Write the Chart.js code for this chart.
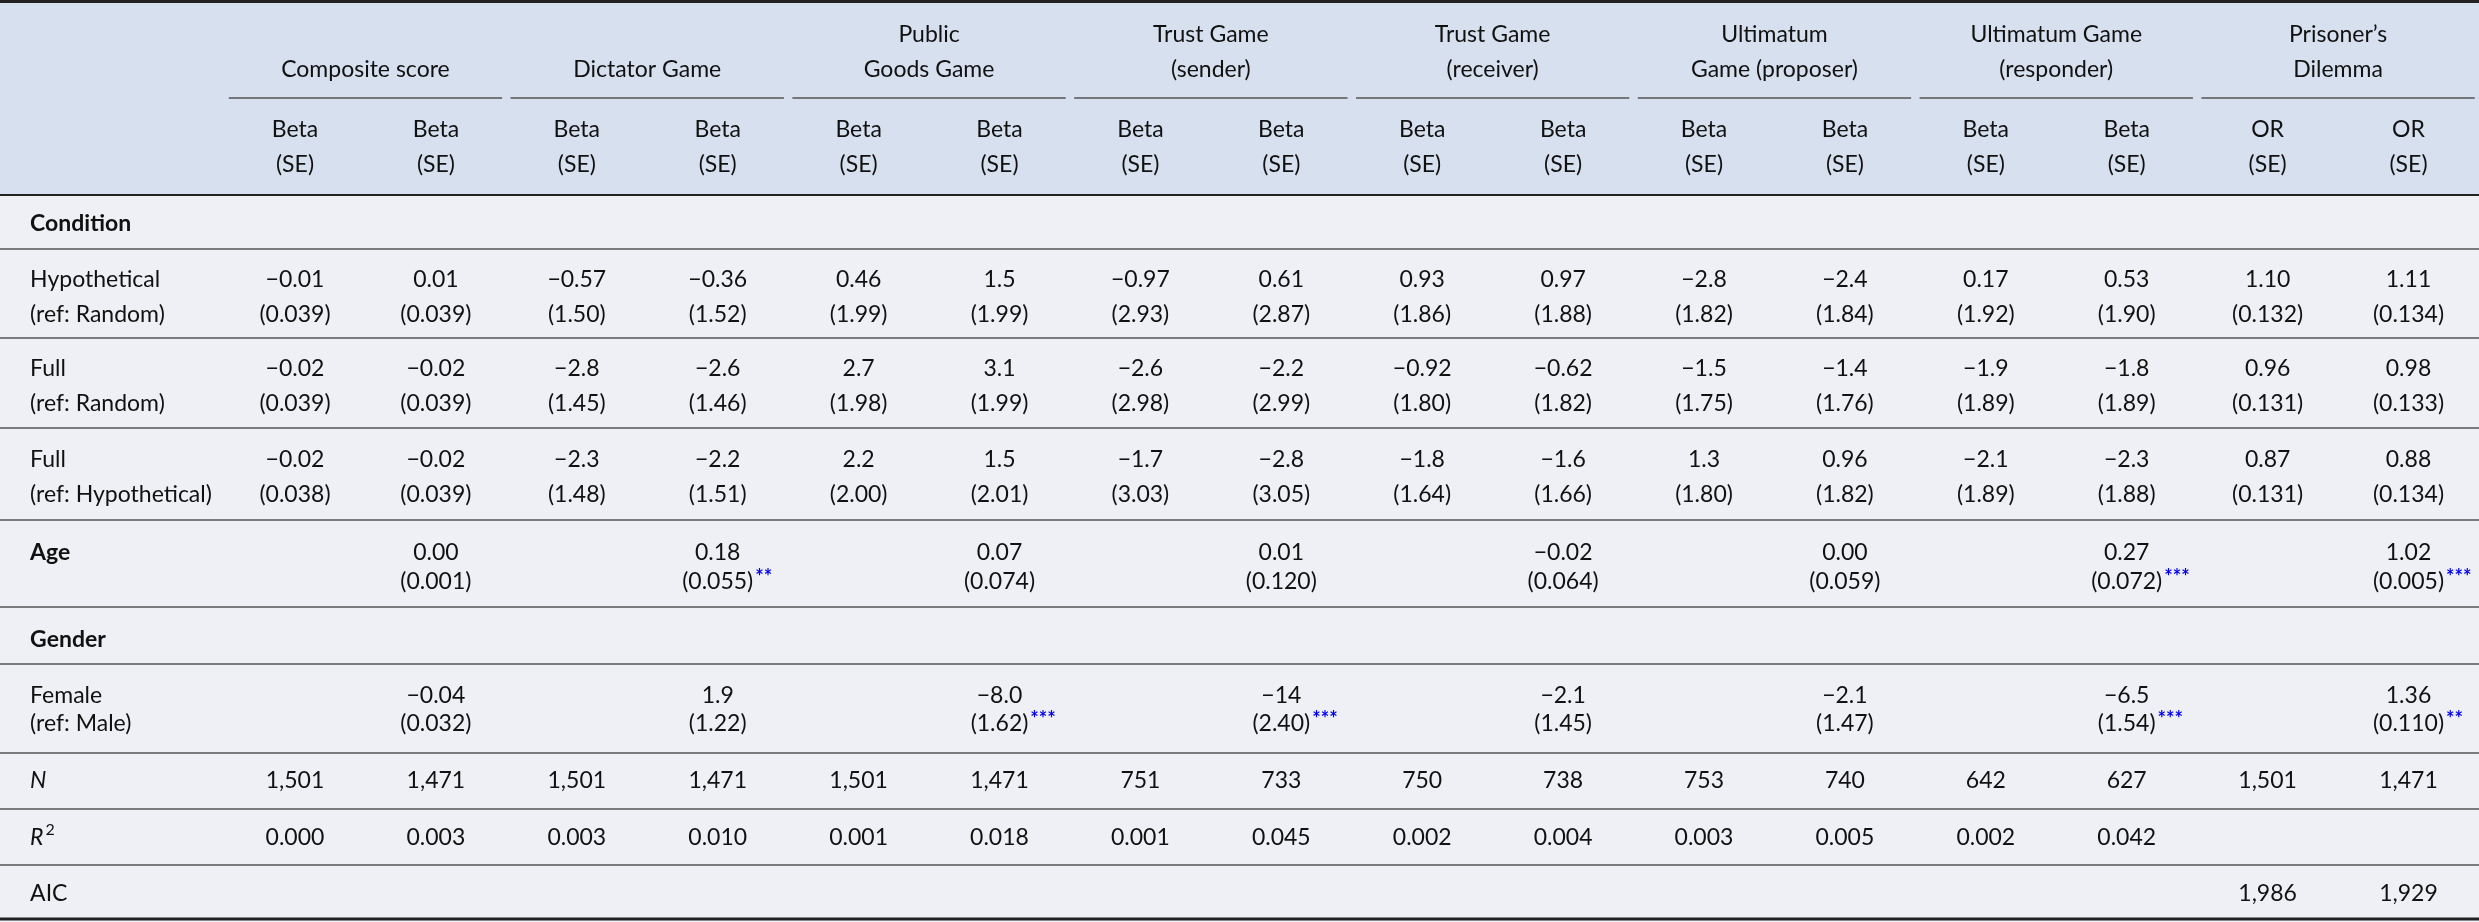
<!DOCTYPE html>
<html><head><meta charset="utf-8">
<script src="https://cdn.jsdelivr.net/npm/chart.js@4"></script>
<style>html,body{margin:0;padding:0;background:#eff0f5}canvas{display:block}</style>
</head><body><canvas id="c" width="2479" height="922"></canvas>
<script>
const groups = [["Composite score"],["Dictator Game"],["Public","Goods Game"],["Trust Game","(sender)"],["Trust Game","(receiver)"],["Ultimatum","Game (proposer)"],["Ultimatum Game","(responder)"],["Prisoner’s","Dilemma"]];
const subHeads = ["Beta","Beta","Beta","Beta","Beta","Beta","Beta","Beta","Beta","Beta","Beta","Beta","Beta","Beta","OR","OR"];
const hypB  = ["−0.01","0.01","−0.57","−0.36","0.46","1.5","−0.97","0.61","0.93","0.97","−2.8","−2.4","0.17","0.53","1.10","1.11"];
const hypSE = ["0.039","0.039","1.50","1.52","1.99","1.99","2.93","2.87","1.86","1.88","1.82","1.84","1.92","1.90","0.132","0.134"];
const fullB = ["−0.02","−0.02","−2.8","−2.6","2.7","3.1","−2.6","−2.2","−0.92","−0.62","−1.5","−1.4","−1.9","−1.8","0.96","0.98"];
const fullSE= ["0.039","0.039","1.45","1.46","1.98","1.99","2.98","2.99","1.80","1.82","1.75","1.76","1.89","1.89","0.131","0.133"];
const fhB   = ["−0.02","−0.02","−2.3","−2.2","2.2","1.5","−1.7","−2.8","−1.8","−1.6","1.3","0.96","−2.1","−2.3","0.87","0.88"];
const fhSE  = ["0.038","0.039","1.48","1.51","2.00","2.01","3.03","3.05","1.64","1.66","1.80","1.82","1.89","1.88","0.131","0.134"];
const ageB  = ["0.00","0.18","0.07","0.01","−0.02","0.00","0.27","1.02"];
const ageSE = ["0.001","0.055","0.074","0.120","0.064","0.059","0.072","0.005"];
const ageStars = ["","**","","","","","***","***"];
const femB  = ["−0.04","1.9","−8.0","−14","−2.1","−2.1","−6.5","1.36"];
const femSE = ["0.032","1.22","1.62","2.40","1.45","1.47","1.54","0.110"];
const femStars = ["","","***","***","","","***","**"];
const nVals = ["1,501","1,471","1,501","1,471","1,501","1,471","751","733","750","738","753","740","642","627","1,501","1,471"];
const r2Vals= ["0.000","0.003","0.003","0.010","0.001","0.018","0.001","0.045","0.002","0.004","0.003","0.005","0.002","0.042","",""];
const aicVals=["","","","","","","","","","","","","","","1,986","1,929"];

// layout (pixels on a reversed y scale)
const Y = {g1:35,g2:70,gsingle:70,under:98,beta:130,se:165,hdrBot:195,cond:224,l1:249,hyp:[280,315],l2:338,full:[369,404],l3:428,fh:[460,495],l4:520,age:[553,582],l5:607,gender:640,l6:664,fem:[696,724],l7:753,n:781,l8:809,r2:838,l9:865,aic:894,bot:919};
const LABX = -1.88;

const pts=[];
function add(x,y,t,o={}){pts.push(Object.assign({x:x,y:y,t:t},o));}
groups.forEach((g,i)=>{ if(g.length===1) add(2*i+0.5,Y.gsingle,g[0]); else {add(2*i+0.5,Y.g1,g[0]);add(2*i+0.5,Y.g2,g[1]);} });
subHeads.forEach((s,i)=>{add(i,Y.beta,s);add(i,Y.se,"(SE)");});
add(LABX,Y.cond,"Condition",{left:1,bold:1});
add(LABX,Y.hyp[0],"Hypothetical",{left:1});add(LABX,Y.hyp[1],"(ref: Random)",{left:1});
add(LABX,Y.full[0],"Full",{left:1});add(LABX,Y.full[1],"(ref: Random)",{left:1});
add(LABX,Y.fh[0],"Full",{left:1});add(LABX,Y.fh[1],"(ref: Hypothetical)",{left:1});
add(LABX,Y.age[0],"Age",{left:1,bold:1});
add(LABX,Y.gender,"Gender",{left:1,bold:1});
add(LABX,Y.fem[0],"Female",{left:1});add(LABX,Y.fem[1],"(ref: Male)",{left:1});
add(LABX,Y.n,"N",{left:1,italic:1});
add(LABX,Y.r2,"R",{left:1,italic:1,sup:"2"});
add(LABX,Y.aic,"AIC",{left:1});
for(let i=0;i<16;i++){
  add(i,Y.hyp[0],hypB[i]);add(i,Y.hyp[1],"("+hypSE[i]+")");
  add(i,Y.full[0],fullB[i]);add(i,Y.full[1],"("+fullSE[i]+")");
  add(i,Y.fh[0],fhB[i]);add(i,Y.fh[1],"("+fhSE[i]+")");
  add(i,Y.n,nVals[i]);add(i,Y.r2,r2Vals[i]);add(i,Y.aic,aicVals[i]);
}
for(let j=0;j<8;j++){
  const c=2*j+1;
  add(c,Y.age[0],ageB[j]);add(c,Y.age[1],"("+ageSE[j]+")",{stars:ageStars[j]});
  add(c,Y.fem[0],femB[j]);add(c,Y.fem[1],"("+femSE[j]+")",{stars:femStars[j]});
}
const FONT='Lato';
const tablePlugin={id:'tbl',
 beforeDatasetsDraw(ch){
  const c=ch.ctx,xs=ch.scales.x,ys=ch.scales.y,W=ch.width;
  c.save();
  c.fillStyle='#eff0f5';c.fillRect(0,0,W,ch.height);
  c.fillStyle='#d6e0ee';c.fillRect(0,0,W,ys.getPixelForValue(Y.hdrBot));
  function hl(y,x0,x1,w,col){c.strokeStyle=col;c.lineWidth=w;c.beginPath();c.moveTo(x0,y);c.lineTo(x1,y);c.stroke();}
  hl(ys.getPixelForValue(1.5),0,W,3,'#222');
  for(let g=0;g<8;g++){hl(ys.getPixelForValue(Y.under),xs.getPixelForValue(2*g-0.47),xs.getPixelForValue(2*g+1.47),1.5,'#555');}
  hl(ys.getPixelForValue(Y.hdrBot),0,W,2,'#222');
  [Y.l1,Y.l2,Y.l3,Y.l4,Y.l5,Y.l6,Y.l7,Y.l8,Y.l9].forEach(y=>hl(ys.getPixelForValue(y),0,W,1.5,'#555'));
  hl(ys.getPixelForValue(Y.bot),0,W,3,'#222');
  c.restore();
 },
 afterDatasetsDraw(ch){
  const c=ch.ctx,xs=ch.scales.x,ys=ch.scales.y;
  c.save();c.textBaseline='middle';
  ch.data.datasets[0].data.forEach(p=>{
   if(!p.t)return;
   const x=xs.getPixelForValue(p.x),y=ys.getPixelForValue(p.y);
   c.font=(p.italic?'italic ':'')+(p.bold?'bold ':'')+'23px '+FONT;
   c.fillStyle='#111';
   c.textAlign=p.left?'left':'center';
   c.fillText(p.t,x,y);
   const w=c.measureText(p.t).width;
   const end=p.left?x+w:x+w/2;
   if(p.sup){c.font='16px '+FONT;c.textAlign='left';c.fillText(p.sup,end+2,y-8);}
   if(p.stars){c.font='bold 20px '+FONT;c.fillStyle='#0000ee';c.textAlign='left';c.fillText(p.stars,end+2,y-4);}
  });
  c.restore();
 }};
new Chart(document.getElementById('c'),{
 type:'scatter',
 data:{datasets:[{data:pts,pointRadius:0,pointHoverRadius:0}]},
 options:{responsive:false,animation:false,devicePixelRatio:1,
  layout:{padding:0},
  plugins:{legend:{display:false},tooltip:{enabled:false}},
  events:[],
  scales:{
   x:{type:'linear',display:false,min:-295/140.9,max:(2479-295)/140.9},
   y:{type:'linear',display:false,reverse:true,min:0,max:922}
  }},
 plugins:[tablePlugin]});
</script></body></html>
